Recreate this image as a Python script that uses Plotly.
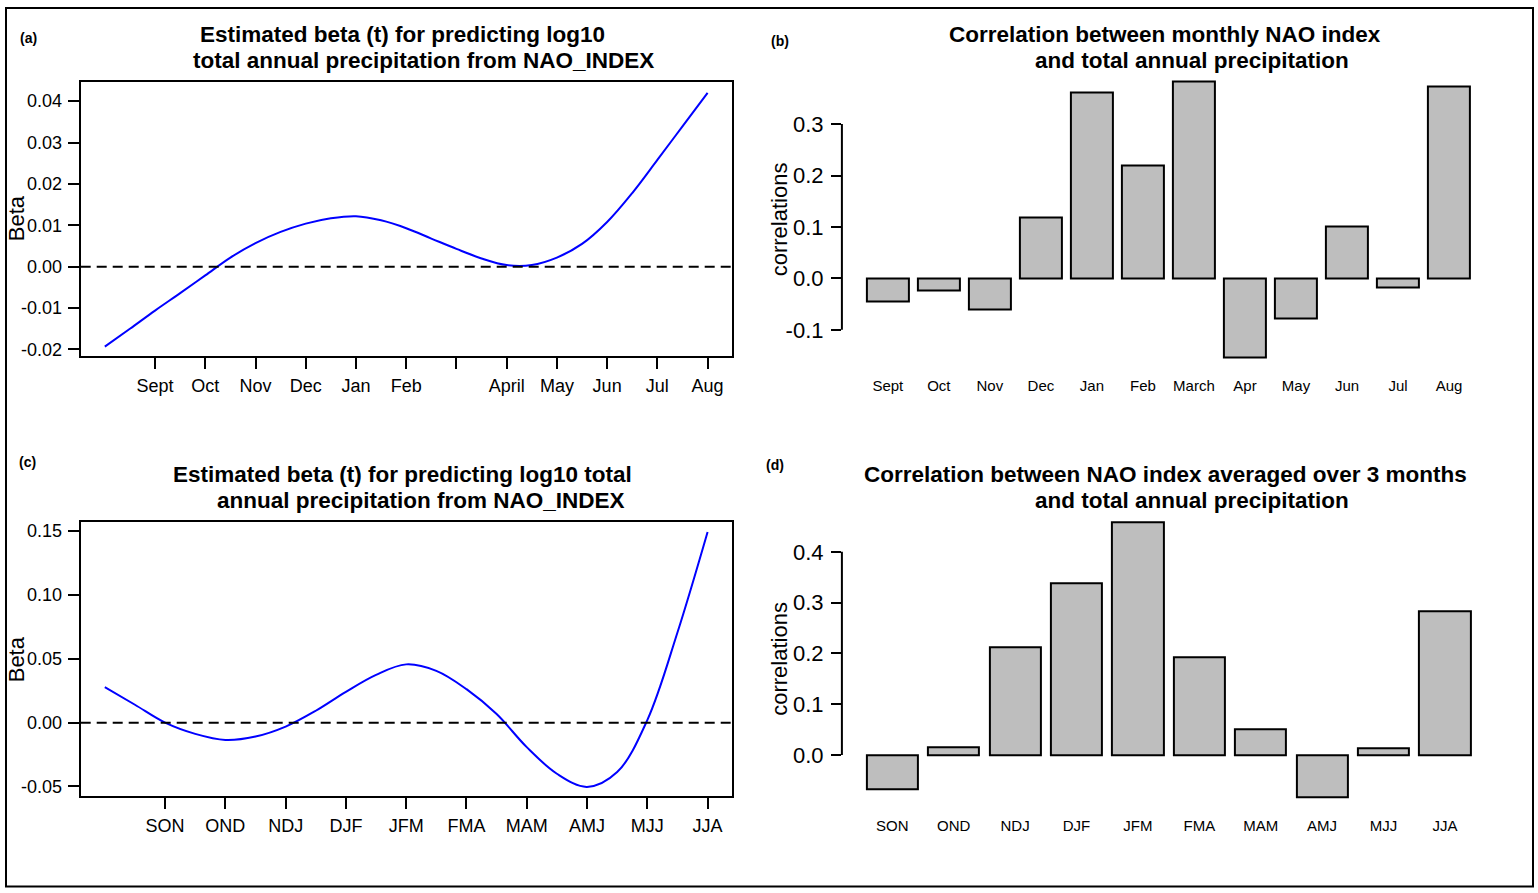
import plotly.graph_objects as go

W, H = 1538, 893

# ---------------- data ----------------
# (a) estimated beta(t), monthly NAO
t_a = [0, 0.5, 1, 1.5, 2, 2.5, 3, 3.5, 4, 4.5, 5, 5.5, 6, 6.5, 7, 7.5, 8, 8.5, 9, 9.5, 10, 10.5, 11, 11.5, 12]
beta_a = [-0.0193, -0.0150, -0.0106, -0.0064, -0.0021, 0.0022, 0.0057, 0.0084, 0.0104, 0.0117, 0.0122,
          0.0112, 0.0093, 0.0068, 0.0043, 0.0020, 0.0004, 0.0004, 0.0022, 0.0055, 0.0108, 0.0178,
          0.0258, 0.0339, 0.0420]
ticks_a = [1, 2, 3, 4, 5, 6, 7, 8, 9, 10, 11, 12]
labels_a = ["Sept", "Oct", "Nov", "Dec", "Jan", "Feb", "", "April", "May", "Jun", "Jul", "Aug"]

# (b) monthly correlations
months_b = ["Sept", "Oct", "Nov", "Dec", "Jan", "Feb", "March", "Apr", "May", "Jun", "Jul", "Aug"]
corr_b = [-0.045, -0.0245, -0.060, 0.119, 0.362, 0.219, 0.382, -0.154, -0.079, 0.101, -0.017, 0.372]

# (c) estimated beta(t), 3-month NAO
t_c = [0, 0.5, 1, 1.5, 2, 2.5, 3, 3.5, 4, 4.5, 5, 5.5, 6, 6.5, 7, 7.5, 8, 8.5, 9, 9.5, 10]
beta_c = [0.0278, 0.0140, 0.0000, -0.0088, -0.0136, -0.0109, -0.0031, 0.0093, 0.0241, 0.0374, 0.0456,
          0.0405, 0.0262, 0.0067, -0.0192, -0.0400, -0.0503, -0.0387, 0.0020, 0.0706, 0.1493]
ticks_c = [1, 2, 3, 4, 5, 6, 7, 8, 9, 10]
labels_c = ["SON", "OND", "NDJ", "DJF", "JFM", "FMA", "MAM", "AMJ", "MJJ", "JJA"]

# (d) 3-month averaged correlations
seasons_d = ["SON", "OND", "NDJ", "DJF", "JFM", "FMA", "MAM", "AMJ", "MJJ", "JJA"]
corr_d = [-0.0666, 0.015, 0.212, 0.339, 0.458, 0.1925, 0.051, -0.083, 0.0137, 0.2825]

# ---------------- helpers ----------------
def fx(x):
    return x / W

def fy(y):
    return 1 - y / H

FONT = "Liberation Sans, Arial, sans-serif"
BAR_FILL = "#BEBEBE"

fig = go.Figure()

fig.add_trace(go.Scatter(x=t_a, y=beta_a, mode="lines", line=dict(color="#0000FF", width=2, shape="spline"),
                         xaxis="x", yaxis="y", showlegend=False))
fig.add_trace(go.Bar(x=months_b, y=corr_b, width=0.833, marker=dict(color=BAR_FILL, line=dict(color="black", width=2)),
                     xaxis="x2", yaxis="y2", showlegend=False))
fig.add_trace(go.Scatter(x=t_c, y=beta_c, mode="lines", line=dict(color="#0000FF", width=2, shape="spline"),
                         xaxis="x3", yaxis="y3", showlegend=False))
fig.add_trace(go.Bar(x=seasons_d, y=corr_d, width=0.833, marker=dict(color=BAR_FILL, line=dict(color="black", width=2)),
                     xaxis="x4", yaxis="y4", showlegend=False))

box_axis = dict(showline=True, mirror=True, linecolor="black", linewidth=2, ticks="outside", ticklen=11,
                tickwidth=2, tickcolor="black", showgrid=False, zeroline=False, ticklabelstandoff=2,
                tickfont=dict(family=FONT, size=18, color="black"))

layout = dict(
    width=W, height=H, margin=dict(l=0, r=0, t=0, b=0),
    paper_bgcolor="white", plot_bgcolor="white",
    font=dict(family=FONT, color="black"),
    showlegend=False,
    bargap=0,
)

# (a)
layout["xaxis"] = dict(box_axis, domain=[fx(80.7), fx(731.7)], range=[-0.48, 12.48], anchor="y",
                       tickmode="array", tickvals=ticks_a, ticktext=labels_a)
layout["yaxis"] = dict(box_axis, domain=[fy(356.7), fy(81.7)], range=[-0.0215, 0.04456], anchor="x",
                       tickmode="array", tickvals=[-0.02, -0.01, 0, 0.01, 0.02, 0.03, 0.04],
                       ticktext=["-0.02", "-0.01", "0.00", "0.01", "0.02", "0.03", "0.04"])
# (c)
layout["xaxis3"] = dict(box_axis, domain=[fx(80.7), fx(731.7)], range=[-0.4, 10.4], anchor="y3",
                        tickmode="array", tickvals=ticks_c, ticktext=labels_c)
layout["yaxis3"] = dict(box_axis, domain=[fy(799.3), fy(524)], range=[-0.0573, 0.1570], anchor="x3",
                        tickmode="array", tickvals=[-0.05, 0, 0.05, 0.10, 0.15],
                        ticktext=["-0.05", "0.00", "0.05", "0.10", "0.15"])

bar_x = dict(type="category", showline=False, ticks="", showgrid=False, zeroline=False,
             tickfont=dict(family=FONT, size=15, color="black"), ticklabelstandoff=7)
bar_y = dict(showline=False, ticks="outside", ticklen=10, tickwidth=2, tickcolor="black", showgrid=False,
             zeroline=False, ticklabelstandoff=3, tickfont=dict(family=FONT, size=22, color="black"))
# (b)
layout["xaxis2"] = dict(bar_x, domain=[fx(841.9), fx(1495)], range=[-0.9, 11.9], anchor="y2")
layout["yaxis2"] = dict(bar_y, domain=[fy(369.5), fy(70)], range=[-0.175, 0.404], anchor="x2",
                        tickmode="array", tickvals=[-0.1, 0, 0.1, 0.2, 0.3],
                        ticktext=["-0.1", "0.0", "0.1", "0.2", "0.3"])
# (d)
layout["xaxis4"] = dict(bar_x, domain=[fx(841.9), fx(1495.3)], range=[-0.82, 9.82], anchor="y4")
layout["yaxis4"] = dict(bar_y, domain=[fy(811.9), fy(513.1)], range=[-0.105, 0.48], anchor="x4",
                        tickmode="array", tickvals=[0, 0.1, 0.2, 0.3, 0.4],
                        ticktext=["0.0", "0.1", "0.2", "0.3", "0.4"])

shapes = []
# dashed zero lines
for xr, yr in (("x", "y"), ("x3", "y3")):
    shapes.append(dict(type="line", xref=f"{xr} domain", yref=yr, x0=0, x1=1, y0=0, y1=0,
                       line=dict(color="black", width=2, dash="10px,6px")))
# R-style y axis lines spanning only the tick range
shapes.append(dict(type="line", xref="x2 domain", yref="y2", x0=0, x1=0, y0=-0.1, y1=0.3,
                   line=dict(color="black", width=2)))
shapes.append(dict(type="line", xref="x4 domain", yref="y4", x0=0, x1=0, y0=0, y1=0.4,
                   line=dict(color="black", width=2)))
# outer frame
shapes.append(dict(type="rect", xref="paper", yref="paper", x0=fx(6), x1=fx(1533), y0=fy(890.5), y1=fy(7),
                   line=dict(color="black", width=2), fillcolor="rgba(0,0,0,0)"))
layout["shapes"] = shapes

annotations = []

def text(x, y, s, size, bold=False, angle=0):
    annotations.append(dict(xref="paper", yref="paper", x=fx(x), y=fy(y), text=(f"<b>{s}</b>" if bold else s),
                            showarrow=False, xanchor="center", yanchor="middle", textangle=angle,
                            font=dict(family=FONT, size=size, color="black")))

TS = 22.5
# titles
text(402.6, 33.5, "Estimated beta (t) for predicting log10", TS, bold=True)
text(423.7, 60, "total annual precipitation from NAO_INDEX", TS, bold=True)
text(1165, 33.5, "Correlation between monthly NAO index", TS, bold=True)
text(1192, 60, "and total annual precipitation", TS, bold=True)
text(402.5, 476, "Estimated beta (t) for predicting log10 total", TS, bold=True)
text(421, 502.5, "annual precipitation from NAO_INDEX", TS, bold=True)
text(1165, 476, "Correlation between NAO index averaged over 3 months", TS, bold=True)
text(1192, 502.5, "and total annual precipitation", TS, bold=True)
# panel letters
text(28, 37, "(a)", 14, bold=True)
text(780, 40, "(b)", 14, bold=True)
text(27, 464, "(c)", 14, bold=True)
text(775, 467, "(d)", 14, bold=True)
# axis titles
text(16.5, 219, "Beta", 22, angle=-90)
text(16.5, 662.5, "Beta", 22, angle=-90)
text(779.5, 220, "correlations", 22, angle=-90)
text(779.5, 662, "correlations", 22, angle=-90)
layout["annotations"] = annotations

fig.update_layout(**layout)
fig.write_html("out.html")
